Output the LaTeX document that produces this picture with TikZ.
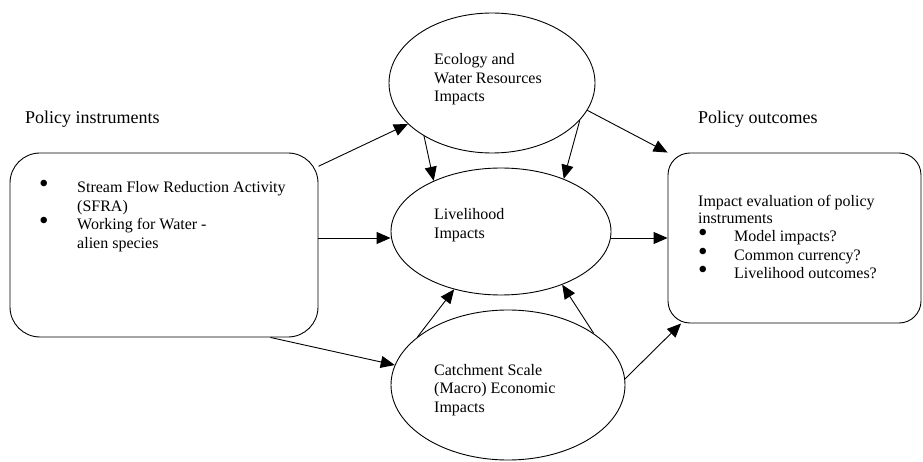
\documentclass[tikz,border=0pt]{standalone}
\usepackage{fontspec}
\setmainfont{Liberation Serif}
\usetikzlibrary{arrows.meta,shapes.geometric}

\newcommand{\bigbul}{\smash{\scalebox{1.7}{\textbullet}}}

\tikzset{
  txt/.style={inner sep=0pt, anchor=base west, font=\fontsize{16}{18.5}\selectfont},
  heading/.style={txt, font=\fontsize{18}{21}\selectfont},
  impact/.style={ellipse, draw, line width=0.9pt, inner sep=0pt},
  policybox/.style={rectangle, draw, line width=0.9pt, inner sep=0pt},
  arr/.style={-{Triangle[length=14pt,width=12pt]}, line width=0.9pt}
}

\begin{document}
\begin{tikzpicture}[x=1pt,y=-1pt]
\useasboundingbox (0,0) rectangle (923,462);
% Headings
\node[heading] (instrlbl) at (25,124) {Policy instruments};
\node[heading] (outclbl) at (698,124) {Policy outcomes};
% Boxes
\node[policybox, rounded corners=30pt, minimum width=308pt, minimum height=184pt] (instr) at (164,245) {};
\node[policybox, rounded corners=22pt, minimum width=253pt, minimum height=170pt] (outc) at (794.5,238) {};
% Ellipses
\node[impact, minimum width=206pt, minimum height=140pt] (eco) at (492,83) {};
\node[impact, minimum width=220pt, minimum height=127pt] (liv) at (501,231.5) {};
\node[impact, minimum width=234pt, minimum height=150pt] (cat) at (508,385) {};
% Box texts
\node[txt] (instrtxt) at (39,193) {\begin{tabular}[t]{@{}p{38pt}@{}l@{}}
\bigbul & Stream Flow Reduction Activity\\
 & (SFRA)\\
\bigbul & Working for Water -\\
 & alien species
\end{tabular}};
\node[txt] (outctxt) at (698,207) {\begin{tabular}[t]{@{}p{36pt}@{}l@{}}
\multicolumn{2}{@{}l@{}}{Impact evaluation of policy}\\[-2pt]
\multicolumn{2}{@{}l@{}}{instruments}\\
\bigbul & Model impacts?\\
\bigbul & Common currency?\\
\bigbul & Livelihood outcomes?
\end{tabular}};
% Ellipse texts
\node[txt] (ecotxt) at (434,65) {\begin{tabular}[t]{@{}l@{}}Ecology and\\ Water Resources\\ Impacts\end{tabular}};
\node[txt] (livtxt) at (434,220) {\begin{tabular}[t]{@{}l@{}}Livelihood\\ Impacts\end{tabular}};
\node[txt] (cattxt) at (434,375) {\begin{tabular}[t]{@{}l@{}}Catchment Scale\\ (Macro) Economic\\ Impacts\end{tabular}};
% Arrows
\draw[arr] (instr.27.5) -- (eco.206);
\draw[arr] (instr.east |- outc.west) -- (liv.west |- outc.west);
\draw[arr] (instr.319.5) -- (cat.170);
\draw[arr] (eco.218) -- (liv.143);
\draw[arr] (eco.337) -- (liv.40);
\draw[arr] (eco.344) -- (outc.north west);
\draw[arr] (liv.east |- outc.west) -- (outc.west);
\draw[arr] (cat.152) -- (liv.231);
\draw[arr] (cat.31) -- (liv.319);
\draw[arr] (cat.3) -- (outc.217);
\end{tikzpicture}
\end{document}
